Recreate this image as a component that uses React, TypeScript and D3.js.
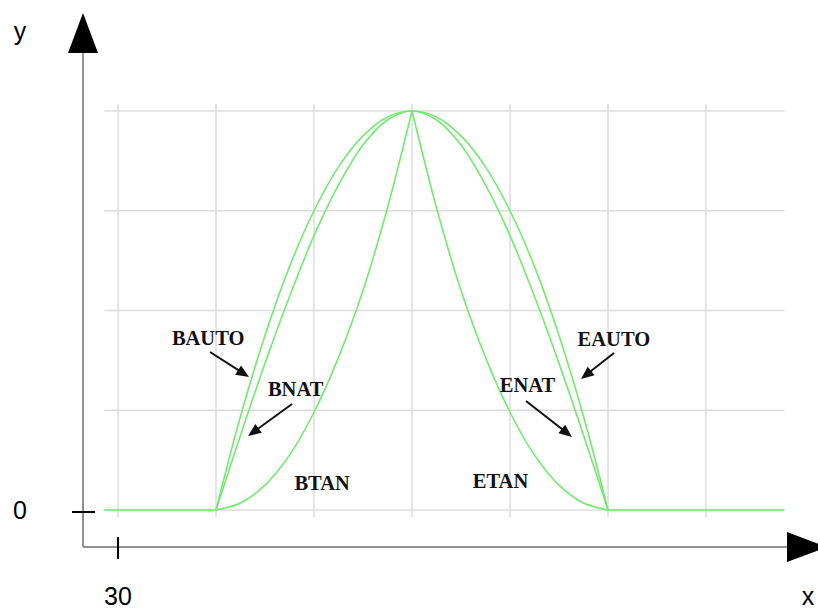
import React from "react";
import * as d3 from "d3";

// Sample abscissae of the two halves of each spline (rise and fall)
const riseX = [40, 42.5, 45, 47.5, 50, 52.5, 55, 57.5, 60];
const fallX = [60, 62.5, 65, 67.5, 70, 72.5, 75, 77.5, 80];

// Spline ordinates for each end condition
const autoRise = [0, 0.94, 1.75, 2.44, 3.0, 3.44, 3.75, 3.94, 4];
const autoFall = [4, 3.94, 3.75, 3.44, 3.0, 2.44, 1.75, 0.94, 0];
const natRise = [0, 0.75, 1.47, 2.14, 2.75, 3.26, 3.66, 3.91, 4];
const natFall = [4, 3.91, 3.66, 3.26, 2.75, 2.14, 1.47, 0.75, 0];
const tanRise = [0, 0.07, 0.25, 0.55, 0.98, 1.53, 2.2, 3.03, 4];
const tanFall = [4, 3.03, 2.2, 1.53, 0.98, 0.55, 0.25, 0.07, 0];

// Flat lead-in / lead-out along y = 0
const flatLeft = [28.6, 40];
const flatRight = [80, 98];

// Grid and ticks
const gridX = [30, 40, 50, 60, 70, 80, 90];
const gridY = [0, 1, 2, 3, 4];
const plotXRange = [28.6, 98];
const xTickValue = 30;
const yTickValue = 0;

// Annotation labels: [text, x, y(baseline)]
const labelText = ["BAUTO", "BNAT", "BTAN", "EAUTO", "ENAT", "ETAN"];
const labelX = [35.5, 45.3, 48.0, 76.9, 68.95, 66.2];
const labelY = [1.654, 1.143, 0.2, 1.644, 1.183, 0.22];

// Arrows: from (x0,y0) to tip (x1,y1)
const arrowFromX = [39.39, 47.76, 80.61, 71.63];
const arrowFromY = [1.584, 1.063, 1.574, 1.093];
const arrowToX = [43.37, 43.27, 77.24, 76.33];
const arrowToY = [1.333, 0.742, 1.313, 0.732];

const W = 818;
const H = 609;
const GREEN = "#72ea72";
const AXIS = "#6e6e6e";

export default function App() {
  const x = d3.scaleLinear().domain([30, 90]).range([118, 706]);
  const y = d3.scaleLinear().domain([0, 4]).range([510, 111]);

  const smooth = d3
    .line<[number, number]>()
    .x((d) => x(d[0]))
    .y((d) => y(d[1]))
    .curve(d3.curveCatmullRom.alpha(0.5));
  const straight = d3
    .line<[number, number]>()
    .x((d) => x(d[0]))
    .y((d) => y(d[1]));

  const zip = (xs: number[], ys: number[]) =>
    xs.map((v, i) => [v, ys[i]] as [number, number]);

  const autoPts = [...zip(riseX, autoRise), ...zip(fallX, autoFall).slice(1)];
  const natPts = [...zip(riseX, natRise), ...zip(fallX, natFall).slice(1)];

  const curvePaths = [
    smooth(autoPts),
    smooth(natPts),
    smooth(zip(riseX, tanRise)),
    smooth(zip(fallX, tanFall)),
    straight(flatLeft.map((v) => [v, 0] as [number, number])),
    straight(flatRight.map((v) => [v, 0] as [number, number])),
  ];

  const gx0 = x(plotXRange[0]);
  const gx1 = x(plotXRange[1]);
  const gyTop = y(4) - 7;
  const gyBot = y(0) + 7;

  const axisX = 83;
  const axisY = 547;

  const arrowHead = (x0: number, y0: number, x1: number, y1: number) => {
    const ang = Math.atan2(y1 - y0, x1 - x0);
    const len = 13;
    const hw = 5.5;
    const bx = x1 - len * Math.cos(ang);
    const by = y1 - len * Math.sin(ang);
    const px = -Math.sin(ang) * hw;
    const py = Math.cos(ang) * hw;
    return `M${x1},${y1}L${bx + px},${by + py}L${bx - px},${by - py}Z`;
  };

  return (
    <svg
      width={W}
      height={H}
      style={{ position: "absolute", left: 0, top: 0, background: "#fff" }}
    >
      {/* grid */}
      <g stroke="#dcdcdc" strokeWidth={1.5}>
        {gridX.map((v) => (
          <line key={"gx" + v} x1={x(v)} x2={x(v)} y1={gyTop} y2={gyBot} />
        ))}
        {gridY.map((v) => (
          <line key={"gy" + v} x1={gx0} x2={gx1} y1={y(v)} y2={y(v)} />
        ))}
      </g>

      {/* spline curves */}
      <g fill="none" stroke={GREEN} strokeWidth={1.6}>
        {curvePaths.map((d, i) => (
          <path key={i} d={d || ""} />
        ))}
      </g>

      {/* axes */}
      <g stroke={AXIS} strokeWidth={1.5}>
        <line x1={axisX} x2={axisX} y1={axisY} y2={52} />
        <line x1={axisX} x2={788} y1={axisY} y2={axisY} />
      </g>
      <path d={`M${axisX},13L${axisX - 15},53L${axisX + 15},53Z`} fill="#000" />
      <path d={`M827,${axisY}L787,${axisY - 15}L787,${axisY + 15}Z`} fill="#000" />

      {/* ticks */}
      <g stroke="#000" strokeWidth={2}>
        <line x1={72} x2={95} y1={y(yTickValue) + 2} y2={y(yTickValue) + 2} />
        <line x1={x(xTickValue)} x2={x(xTickValue)} y1={537} y2={559} />
      </g>

      {/* axis labels */}
      <g fontFamily="'Liberation Sans', Arial, sans-serif" fontSize={25} fill="#000">
        <text x={20} y={40} textAnchor="middle">y</text>
        <text x={20} y={519} textAnchor="middle">{String(yTickValue)}</text>
        <text x={x(xTickValue)} y={605} textAnchor="middle">{String(xTickValue)}</text>
        <text x={808} y={605} textAnchor="middle">x</text>
      </g>

      {/* annotations */}
      <g fontFamily="'Liberation Serif', 'Times New Roman', serif" fontWeight="bold" fontSize={20.5} fill="#111">
        {labelText.map((t, i) => (
          <text key={t} x={x(labelX[i])} y={y(labelY[i])}>{t}</text>
        ))}
      </g>
      <g>
        {arrowFromX.map((_, i) => {
          const x0 = x(arrowFromX[i]);
          const y0 = y(arrowFromY[i]);
          const x1 = x(arrowToX[i]);
          const y1 = y(arrowToY[i]);
          const ang = Math.atan2(y1 - y0, x1 - x0);
          return (
            <g key={i}>
              <line
                x1={x0}
                y1={y0}
                x2={x1 - 8 * Math.cos(ang)}
                y2={y1 - 8 * Math.sin(ang)}
                stroke="#111"
                strokeWidth={2}
              />
              <path d={arrowHead(x0, y0, x1, y1)} fill="#111" />
            </g>
          );
        })}
      </g>
    </svg>
  );
}
